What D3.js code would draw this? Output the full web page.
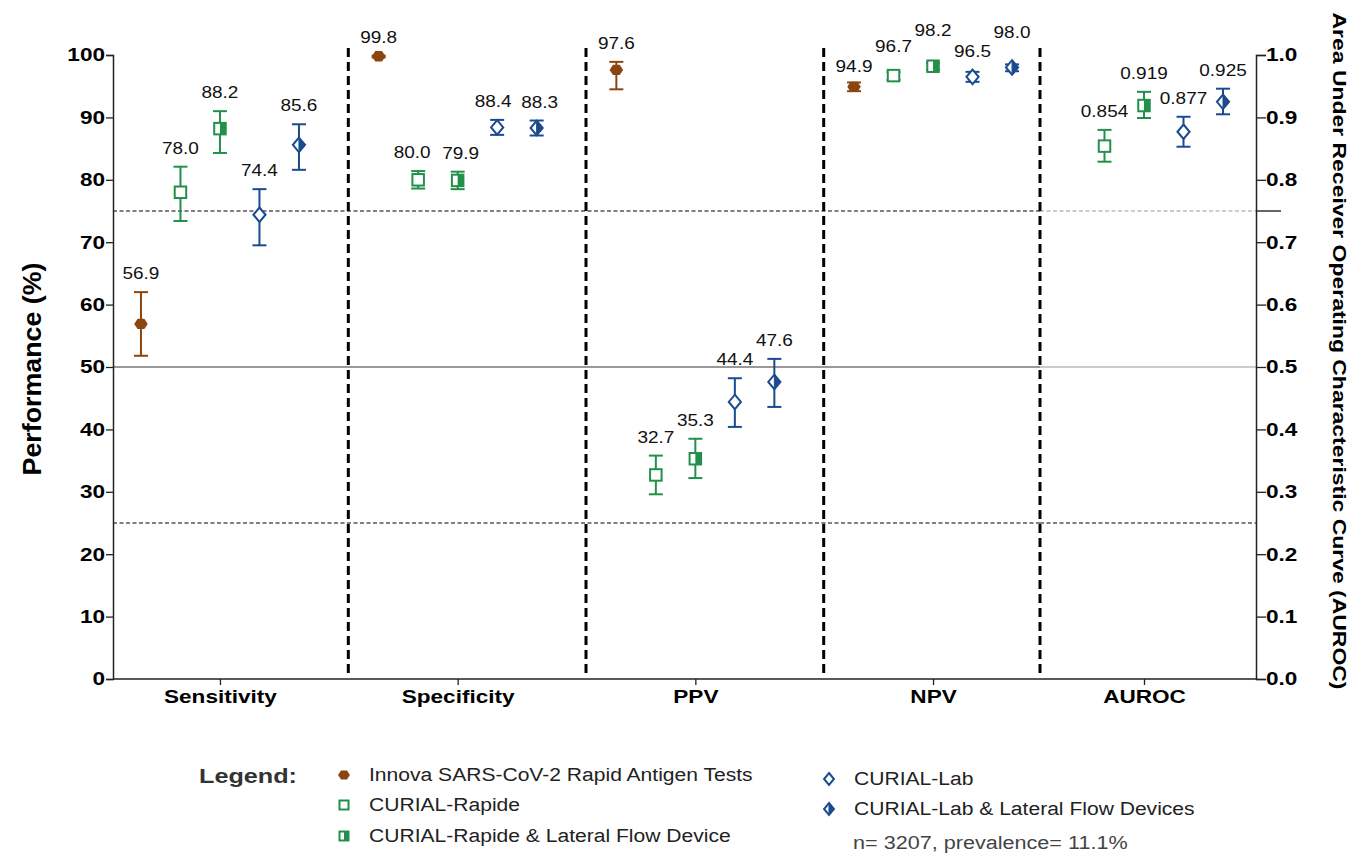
<!DOCTYPE html>
<html>
<head>
<meta charset="utf-8">
<script src="https://cdn.jsdelivr.net/npm/d3@7"></script>
<style>
  html, body { margin: 0; padding: 0; background: #fff; }
  svg { display: block; font-family: "Liberation Sans", Arial, Helvetica, sans-serif; }
</style>
</head>
<body>
<svg id="chart" width="1352" height="855"></svg>
<script>
// ---------------- DATA ----------------
const categories = ["Sensitivity", "Specificity", "PPV", "NPV", "AUROC"];
const seriesNames = [
  "Innova SARS-CoV-2 Rapid Antigen Tests",
  "CURIAL-Rapide",
  "CURIAL-Rapide & Lateral Flow Device",
  "CURIAL-Lab",
  "CURIAL-Lab & Lateral Flow Devices"
];
// values per category (Sensitivity, Specificity, PPV, NPV in %, AUROC 0-1)
const innovaValues = [56.9, 99.8, 97.6, 94.9, null];
const innovaLow    = [51.8, 99.6, 94.5, 94.2, null];
const innovaHigh   = [62.0, 99.9, 98.9, 95.6, null];

const rapideValues = [78.0, 80.0, 32.7, 96.7, 0.854];
const rapideLow    = [73.4, 78.6, 29.6, 96.0, 0.829];
const rapideHigh   = [82.1, 81.4, 35.8, 97.3, 0.880];

const rapideLfdValues = [88.2, 79.9, 35.3, 98.2, 0.919];
const rapideLfdLow    = [84.3, 78.5, 32.2, 97.6, 0.899];
const rapideLfdHigh   = [91.0, 81.3, 38.5, 98.7, 0.941];

const labValues = [74.4, 88.4, 44.4, 96.5, 0.877];
const labLow    = [69.5, 87.2, 40.4, 95.7, 0.853];
const labHigh   = [78.5, 89.6, 48.2, 97.3, 0.901];

const labLfdValues = [85.6, 88.3, 47.6, 98.0, 0.925];
const labLfdLow    = [81.6, 87.1, 43.6, 97.4, 0.905];
const labLfdHigh   = [88.9, 89.5, 51.3, 98.5, 0.946];

const leftTicks = [0, 10, 20, 30, 40, 50, 60, 70, 80, 90, 100];
const rightTicks = [0, 0.1, 0.2, 0.3, 0.4, 0.5, 0.6, 0.7, 0.8, 0.9, 1.0];
const referenceLevels = [25, 50, 75];
const footnote = "n= 3207, prevalence= 11.1%";

// ---------------- STYLE / LAYOUT ----------------
const BROWN = "#8a4510", GREEN = "#22904a", BLUE = "#1a4b8e";
const STRETCH = 1.22;
const series = [
  { name: seriesNames[0], v: innovaValues, lo: innovaLow, hi: innovaHigh, color: BROWN, shape: "hex" },
  { name: seriesNames[1], v: rapideValues, lo: rapideLow, hi: rapideHigh, color: GREEN, shape: "square" },
  { name: seriesNames[2], v: rapideLfdValues, lo: rapideLfdLow, hi: rapideLfdHigh, color: GREEN, shape: "squareHalf" },
  { name: seriesNames[3], v: labValues, lo: labLow, hi: labHigh, color: BLUE, shape: "diamond" },
  { name: seriesNames[4], v: labLfdValues, lo: labLfdLow, hi: labLfdHigh, color: BLUE, shape: "diamondHalf" }
];

const svg = d3.select("#chart");
const plotTop = 55, plotBottom = 679, axL = 113, axR = 1256, panelSplit = 1040;

const y = d3.scaleLinear().domain([0, 100]).range([plotBottom, plotTop]);
const yR = d3.scaleLinear().domain([0, 1]).range([plotBottom, plotTop]);
const xLeft = d3.scalePoint().domain(categories.slice(0, 4)).range([axL, panelSplit]).padding(0.45);
const xRight = d3.scalePoint().domain(categories.slice(4)).range([panelSplit, 1248]).padding(0.5);
const catX = c => categories.indexOf(c) < 4 ? xLeft(c) : xRight(c);
const off = d3.scalePoint().domain(seriesNames).range([-79, 79]);

function stretch(sel, f) {
  sel.each(function () {
    const len = this.getComputedTextLength();
    d3.select(this).attr("textLength", len * (f || STRETCH)).attr("lengthAdjust", "spacingAndGlyphs");
  });
}

// ---------------- REFERENCE LINES ----------------
referenceLevels.forEach(lv => {
  const solid = lv === 50;
  svg.append("line").attr("x1", axL).attr("x2", panelSplit).attr("y1", y(lv)).attr("y2", y(lv))
    .attr("stroke", solid ? "#333" : "#000").attr("stroke-width", 1)
    .attr("stroke-dasharray", solid ? null : "4,2.5");
  svg.append("line").attr("x1", panelSplit).attr("x2", axR).attr("y1", y(lv)).attr("y2", y(lv))
    .attr("stroke", lv === 25 ? "#000" : "#999").attr("stroke-width", 1)
    .attr("stroke-dasharray", solid ? null : "4,2.5");
});
svg.append("line").attr("x1", axR).attr("x2", axR + 25).attr("y1", yR(0.75)).attr("y2", yR(0.75))
  .attr("stroke", "#333").attr("stroke-width", 1.5);

// ---------------- GROUP SEPARATORS ----------------
const sepXs = categories.slice(0, 3).map(c => xLeft(c) + xLeft.step() * 0.54).concat([panelSplit]);
sepXs.forEach(sx => {
  svg.append("line").attr("x1", sx).attr("x2", sx).attr("y1", 48).attr("y2", 676)
    .attr("stroke", "#000").attr("stroke-width", 3).attr("stroke-dasharray", "9,5");
});

// ---------------- AXES ----------------
// left
const gL = svg.append("g").attr("transform", `translate(${axL},0)`);
gL.call(d3.axisLeft(y).tickValues(d3.range(0, 101, 2)).tickSize(4).tickFormat(""))
  .call(g => g.select(".domain").remove());
gL.call(d3.axisLeft(y).tickValues(leftTicks).tickSize(7).tickPadding(1).tickFormat(d3.format("d")));
gL.selectAll(".domain").attr("stroke", "#222").attr("stroke-width", 1.5);
gL.selectAll(".tick line").attr("stroke", "#222").attr("stroke-width", 1.3);
gL.selectAll("text").attr("font-size", 18.5).attr("font-weight", "bold").attr("fill", "#000")
  .attr("font-family", "Liberation Sans, Arial, sans-serif");
stretch(gL.selectAll("text"));

// right
const gR = svg.append("g").attr("transform", `translate(${axR},0)`);
gR.call(d3.axisRight(yR).tickValues(d3.range(0, 51).map(i => i / 50)).tickSize(5).tickFormat(""))
  .call(g => g.select(".domain").remove());
gR.call(d3.axisRight(yR).tickValues(rightTicks).tickSize(10).tickPadding(0).tickFormat(d3.format(".1f")));
gR.selectAll(".domain").attr("stroke", "#222").attr("stroke-width", 1.5);
gR.selectAll(".tick line").attr("stroke", "#222").attr("stroke-width", 1.3);
gR.selectAll("text").attr("font-size", 18.5).attr("font-weight", "bold").attr("fill", "#000")
  .attr("font-family", "Liberation Sans, Arial, sans-serif");
stretch(gR.selectAll("text"));

// bottom
svg.append("line").attr("x1", axL).attr("x2", axR).attr("y1", plotBottom).attr("y2", plotBottom)
  .attr("stroke", "#222").attr("stroke-width", 1.5);
[xLeft, xRight].forEach(sc => {
  const g = svg.append("g").attr("transform", `translate(0,${plotBottom})`)
    .call(d3.axisBottom(sc).tickSize(6).tickPadding(5).tickSizeOuter(0));
  g.select(".domain").remove();
  g.selectAll(".tick line").attr("stroke", "#222").attr("stroke-width", 1.3);
  g.selectAll("text").attr("font-size", 18.5).attr("font-weight", "bold").attr("fill", "#000")
    .attr("font-family", "Liberation Sans, Arial, sans-serif");
  stretch(g.selectAll("text"));
});

// axis titles
svg.append("text").attr("transform", "translate(41,369) rotate(-90)")
  .attr("text-anchor", "middle").attr("font-size", 26).attr("font-weight", "bold")
  .text("Performance (%)").call(s => stretch(s, 1.03));
svg.append("text").attr("transform", "translate(1333,351) rotate(90)")
  .attr("text-anchor", "middle").attr("font-size", 19).attr("font-weight", "bold")
  .text("Area Under Receiver Operating Characteristic Curve (AUROC)")
  .attr("textLength", 677).attr("lengthAdjust", "spacingAndGlyphs");

// ---------------- MARKERS ----------------
function drawMarker(g, shape, color, s) {
  const h = s / 2;
  if (shape === "hex") {
    const pts = d3.range(6).map(k => [h * 1.08 * Math.cos(k * Math.PI / 3), h * 0.95 * Math.sin(k * Math.PI / 3)]);
    g.append("path").attr("d", "M" + pts.join("L") + "Z").attr("fill", color);
  } else if (shape.startsWith("square")) {
    const a = h - 1;
    g.append("rect").attr("x", -a).attr("y", -a).attr("width", 2 * a).attr("height", 2 * a)
      .attr("fill", "#fff").attr("stroke", color).attr("stroke-width", 2);
    if (shape === "squareHalf")
      g.append("rect").attr("x", 0).attr("y", -a).attr("width", a).attr("height", 2 * a).attr("fill", color);
  } else {
    const w = h * 0.9, t = h + 0.5;
    g.append("path").attr("d", `M0,${-t}L${w},0L0,${t}L${-w},0Z`)
      .attr("fill", "#fff").attr("stroke", color).attr("stroke-width", 2);
    if (shape === "diamondHalf")
      g.append("path").attr("d", `M0,${-t}L${w},0L0,${t}Z`).attr("fill", color).attr("stroke", color).attr("stroke-width", 1);
  }
}

// label lift (gap between upper cap and text baseline); NPV labels are staggered in the original
const npvGaps = [10, 20, 27, 15, 26];
// small horizontal nudges where neighbouring labels would touch (Specificity)
const specNudge = [0, -6, 3, -4, 3];
const fmtPct = d3.format(".1f"), fmtAuc = d3.format(".3f");

series.forEach((s, si) => {
  s.v.forEach((val, ci) => {
    if (val == null) return;
    const cat = categories[ci];
    const sc = ci === 4 ? yR : y;
    const cx = catX(cat) + off(s.name);
    const g = svg.append("g");
    // error bar
    g.append("line").attr("x1", cx).attr("x2", cx).attr("y1", sc(s.lo[ci])).attr("y2", sc(s.hi[ci]))
      .attr("stroke", s.color).attr("stroke-width", 2);
    [s.lo[ci], s.hi[ci]].forEach(e => {
      g.append("line").attr("x1", cx - 7).attr("x2", cx + 7).attr("y1", sc(e)).attr("y2", sc(e))
        .attr("stroke", s.color).attr("stroke-width", 2);
    });
    const mg = g.append("g").attr("transform", `translate(${cx},${sc(val)})`);
    drawMarker(mg, s.shape, s.color, s.shape === "hex" ? 12.5 : 13.5);
    // value label
    const gap = cat === "NPV" ? npvGaps[si] : 13;
    const dx = cat === "Specificity" ? specNudge[si] : 0;
    svg.append("text").attr("x", cx + dx).attr("y", sc(s.hi[ci]) - gap)
      .attr("text-anchor", "middle").attr("font-size", 15.8).attr("fill", "#111")
      .text(ci === 4 ? fmtAuc(val) : fmtPct(val)).call(t => stretch(t, 1.2));
  });
});

// ---------------- LEGEND ----------------
svg.append("text").attr("x", 199).attr("y", 783).attr("font-size", 21).attr("font-weight", "bold")
  .attr("fill", "#333").text("Legend:").call(t => stretch(t, 1.2));
const legendPos = [
  { x: 344, y: 775 }, { x: 344, y: 805 }, { x: 344, y: 836 }, { x: 829, y: 779 }, { x: 829, y: 809 }
];
series.forEach((s, i) => {
  const p = legendPos[i];
  const mg = svg.append("g").attr("transform", `translate(${p.x},${p.y})`);
  drawMarker(mg, s.shape, s.color, 11);
  svg.append("text").attr("x", p.x + 25).attr("y", p.y + 6).attr("font-size", 18).attr("fill", "#222")
    .text(s.name).call(t => stretch(t, 1.17));
});
svg.append("text").attr("x", 853).attr("y", 849).attr("font-size", 18).attr("fill", "#444")
  .text(footnote).call(t => stretch(t, 1.2));
</script>
</body>
</html>
